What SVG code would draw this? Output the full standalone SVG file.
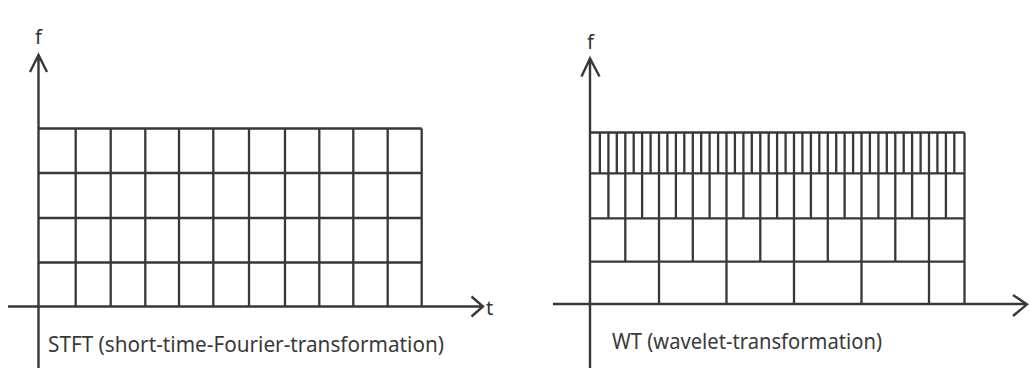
<svg xmlns="http://www.w3.org/2000/svg" width="1030" height="368" viewBox="0 0 1030 368">
<style>
.ln{fill:none;stroke:#383838;stroke-width:2.3;stroke-linecap:butt}
.ax{fill:none;stroke:#383838;stroke-width:2.4}
.lbl{font-family:"Noto Sans","Open Sans",sans-serif;font-size:22px;fill:#3a3a3a}
.var{font-family:"Noto Sans","Open Sans",sans-serif;font-size:20px;fill:#333}
</style>
<rect width="1030" height="368" fill="#fff"/>
<g id="stft">
<g id="stft-axes">
<path class="ax" d="M38.5,368 V56 M30,72 L38.5,55 L47,72"/>
<path class="ax" d="M8,306.5 H483 M471.5,296.5 L483,306.5 L471.5,316.5"/>
</g>
<g id="stft-grid">
<path class="ln" d="M38.5,128.5 H421.7 M38.5,173 H421.7 M38.5,218 H421.7 M38.5,262.5 H421.7"/>
<path class="ln" d="M75.7,128.5 V306.5 M110.7,128.5 V306.5 M145.3,128.5 V306.5 M179,128.5 V306.5 M213.3,128.5 V306.5 M249,128.5 V306.5 M285,128.5 V306.5 M319.3,128.5 V306.5 M353.3,128.5 V306.5 M387.7,128.5 V306.5 M421.7,128.5 V306.5"/>
</g>
<text class="var" x="35" y="44">f</text>
<text class="var" x="486" y="315">t</text>
<text class="lbl" x="48" y="352" textLength="396" lengthAdjust="spacingAndGlyphs">STFT (short-time-Fourier-transformation)</text>
</g>
<g id="wt">
<g id="wt-axes">
<path class="ax" d="M590,368 V59 M581.5,76.5 L590,58.5 L599.5,76.5"/>
<path class="ax" d="M553,304 H1027 M1013,295 L1027,304.3 L1013,316"/>
</g>
<g id="wt-grid">
<path class="ln" d="M590,132.5 H964.5 M590,173.3 H964.5 M590,218.3 H964.5 M590,261.7 H964.5 M964.5,132.5 V304"/>
<path class="ln" d="M599.9,132.5V173.3M608.4,132.5V173.3M616.8,132.5V173.3M625.3,132.5V173.3M633.7,132.5V173.3M642.1,132.5V173.3M650.6,132.5V173.3M659,132.5V173.3M667.4,132.5V173.3M675.9,132.5V173.3M684.3,132.5V173.3M692.8,132.5V173.3M701.2,132.5V173.3M709.6,132.5V173.3M718.1,132.5V173.3M726.5,132.5V173.3M734.9,132.5V173.3M743.4,132.5V173.3M751.8,132.5V173.3M760.3,132.5V173.3M768.7,132.5V173.3M777.1,132.5V173.3M785.6,132.5V173.3M794,132.5V173.3M802.4,132.5V173.3M810.9,132.5V173.3M819.3,132.5V173.3M827.8,132.5V173.3M836.2,132.5V173.3M844.6,132.5V173.3M853.1,132.5V173.3M861.5,132.5V173.3M869.9,132.5V173.3M878.4,132.5V173.3M886.8,132.5V173.3M895.3,132.5V173.3M903.7,132.5V173.3M912.1,132.5V173.3M920.6,132.5V173.3M929,132.5V173.3M937.4,132.5V173.3M945.9,132.5V173.3M954.3,132.5V173.3"/>
<path class="ln" d="M608.4,173.3V218.3M625.3,173.3V218.3M642.1,173.3V218.3M659,173.3V218.3M675.9,173.3V218.3M692.8,173.3V218.3M709.6,173.3V218.3M726.5,173.3V218.3M743.4,173.3V218.3M760.3,173.3V218.3M777.1,173.3V218.3M794,173.3V218.3M810.9,173.3V218.3M827.8,173.3V218.3M844.6,173.3V218.3M861.5,173.3V218.3M878.4,173.3V218.3M895.3,173.3V218.3M912.1,173.3V218.3M929,173.3V218.3M945.9,173.3V218.3"/>
<path class="ln" d="M625.3,218.3V261.7M659,218.3V261.7M692.8,218.3V261.7M726.5,218.3V261.7M760.3,218.3V261.7M794,218.3V261.7M827.8,218.3V261.7M861.5,218.3V261.7M895.3,218.3V261.7M929,218.3V261.7"/>
<path class="ln" d="M659,261.7V304M726.5,261.7V304M794,261.7V304M861.5,261.7V304M929,261.7V304"/>
</g>
<text class="var" x="587" y="49">f</text>
<text class="lbl" x="612" y="349" textLength="270" lengthAdjust="spacingAndGlyphs">WT (wavelet-transformation)</text>
</g>
</svg>
